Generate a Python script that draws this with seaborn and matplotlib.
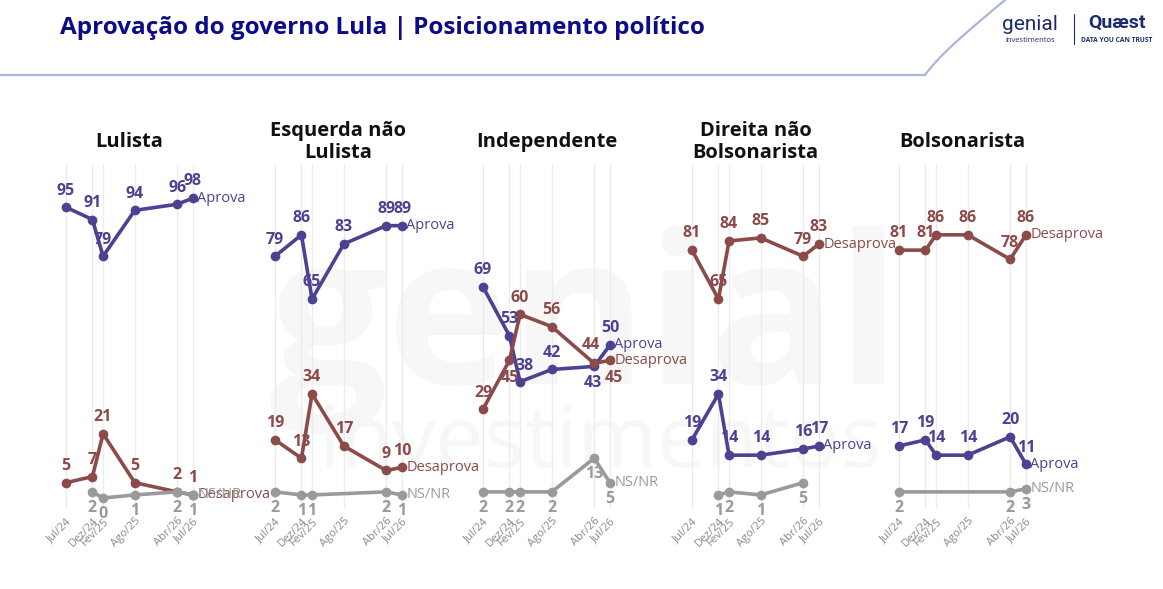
import matplotlib
matplotlib.use("Agg")
import matplotlib.pyplot as plt
import seaborn as sns
import pandas as pd
import numpy as np

sns.set_theme(style="white")
plt.rcParams["font.family"] = ["Open Sans", "DejaVu Sans"]

# ---- data ----
dates = ["Jul/24", "Dez/24", "Fev/25", "Ago/25", "Abr/26", "Jul/26"]
months = [0, 5, 7, 13, 21, 24]
panels = ["Lulista", "Esquerda não\nLulista", "Independente",
          "Direita não\nBolsonarista", "Bolsonarista"]

aprova = [
    [95, 91, 79, 94, 96, 98],
    [79, 86, 65, 83, 89, 89],
    [69, 53, 38, 42, 43, 50],
    [19, 34, 14, 14, 16, 17],
    [17, 19, 14, 14, 20, 11],
]
desaprova = [
    [5, 7, 21, 5, 2, 1],
    [19, 13, 34, 17, 9, 10],
    [29, 45, 60, 56, 44, 45],
    [81, 65, 84, 85, 79, 83],
    [81, 81, 86, 86, 78, 86],
]
nsnr = [
    [None, 2, 0, 1, 2, 1],
    [2, 1, 1, None, 2, 1],
    [2, 2, 2, 2, 13, 5],
    [None, 1, 2, 1, 5, None],
    [2, None, None, None, 2, 3],
]

series_names = ["Aprova", "Desaprova", "NS/NR"]
colors = {"Aprova": "#4b4292", "Desaprova": "#8c4a4a", "NS/NR": "#9a9a9a"}

rows = []
for p, name in enumerate(panels):
    for s, vals in zip(series_names, [aprova[p], desaprova[p], nsnr[p]]):
        for d, m, v in zip(dates, months, vals):
            if v is not None:
                rows.append({"panel": p, "serie": s, "date": d, "month": m, "value": v})
df = pd.DataFrame(rows)

# label tweaks: (panel, serie, date index) -> offset in points
offsets = {
    (2, "Aprova", 2): (3, 11),
    (2, "Aprova", 4): (-1, -12),
    (2, "Desaprova", 1): (0, -13),
    (2, "Desaprova", 4): (-2, 13),
    (2, "Desaprova", 5): (3, -13),
}

W, H = 1163, 589
fig = plt.figure(figsize=(W / 100, H / 100), dpi=100)
fig.patch.set_facecolor("white")

# watermark, on a background axes behind the panels
bg = fig.add_axes([0, 0, 1, 1], zorder=-10)
bg.set_xlim(0, W)
bg.set_ylim(H, 0)
bg.axis("off")
bg.text(585, 330, "genial", fontsize=150, fontweight="bold",
        color="#f7f7f7", ha="center", va="center")
bg.text(600, 445, "investimentos", fontsize=62,
        color="#f7f7f7", ha="center", va="center")

# header
bg.text(60, 28, "Aprovação do governo Lula | Posicionamento político",
        fontsize=17.5, fontweight="bold", color="#0c0c8a", va="center", ha="left")
t = np.linspace(0, 1, 40)
cy = np.concatenate([[75, 75], 75 - 75 * t])
cxx = np.concatenate([[0, 925], 925 + 35 * np.sin(t * np.pi / 2) + 45 * t ** 2])
bg.plot(cxx, cy, color="#aab6d6", lw=1.6)
bg.text(1030, 24, "genial", fontsize=15, color="#1d2a6e",
        ha="center", va="center", family=["Roboto", "DejaVu Sans"])
bg.text(1030, 41, "investimentos", fontsize=5.5, color="#1d2a6e",
        ha="center", va="center")
bg.plot([1074, 1074], [14, 44], color="#1d2a6e", lw=0.8)
bg.text(1117, 23, "Quæst", fontsize=14, fontweight="bold", color="#1d2a6e",
        ha="center", va="center", family=["Roboto", "DejaVu Sans"])
bg.text(1117, 41, "DATA YOU CAN TRUST", fontsize=4.8, fontweight="bold",
        color="#1d2a6e", ha="center", va="center")

x0s = [66, 275, 483, 692, 899]
span = 127
pxm = span / 24
y_v0 = 498
pyu = 3.06
ymin, ymax = -3.5, 109
pad = 14

for p, name in enumerate(panels):
    x0 = x0s[p]
    left = x0 - pad
    width = span + 2 * pad
    top = y_v0 - ymax * pyu
    bottom = y_v0 - ymin * pyu
    ax = fig.add_axes([left / W, 1 - bottom / H, width / W, (bottom - top) / H])
    ax.set_facecolor("none")
    sub = df[df["panel"] == p]
    sns.lineplot(data=sub, x="month", y="value", hue="serie", palette=colors,
                 hue_order=series_names, estimator=None, sort=True, marker="o",
                 markersize=7, markeredgewidth=0, linewidth=2.6, legend=False, ax=ax)
    ax.set_xlim(-pad / pxm, 24 + pad / pxm)
    ax.set_ylim(ymin, ymax)
    for m in months:
        ax.axvline(m, color="#ececec", lw=1, zorder=0)
    for sp in ax.spines.values():
        sp.set_visible(False)
    ax.set_yticks([])
    ax.set_ylabel("")
    ax.set_xlabel("")
    ax.set_xticks(months)
    ax.set_xticklabels(dates, rotation=45, ha="right", rotation_mode="anchor",
                       fontsize=8, color="#8a8a8a")
    ax.tick_params(axis="x", length=0, pad=5)

    for s in series_names:
        vals = {"Aprova": aprova, "Desaprova": desaprova, "NS/NR": nsnr}[s][p]
        for i, (m, v) in enumerate(zip(months, vals)):
            if v is None:
                continue
            dx, dy = offsets.get((p, s, i), (0, -11.5 if s == "NS/NR" else 12))
            ax.annotate(str(v), (m, v), xytext=(dx, dy), textcoords="offset points",
                        ha="center", va="center", fontsize=11.5, fontweight="bold",
                        color=colors[s], annotation_clip=False)
        if vals[-1] is not None:
            ax.annotate(s, (24, vals[-1]), xytext=(3, 0), textcoords="offset points",
                        ha="left", va="center", fontsize=10.5, color=colors[s],
                        annotation_clip=False)

    bg.text(x0 + span / 2, 142, name, ha="center", va="center",
            fontsize=14.5, fontweight="bold", color="#111111", linespacing=1.15)

fig.savefig("out.png", dpi=100)
